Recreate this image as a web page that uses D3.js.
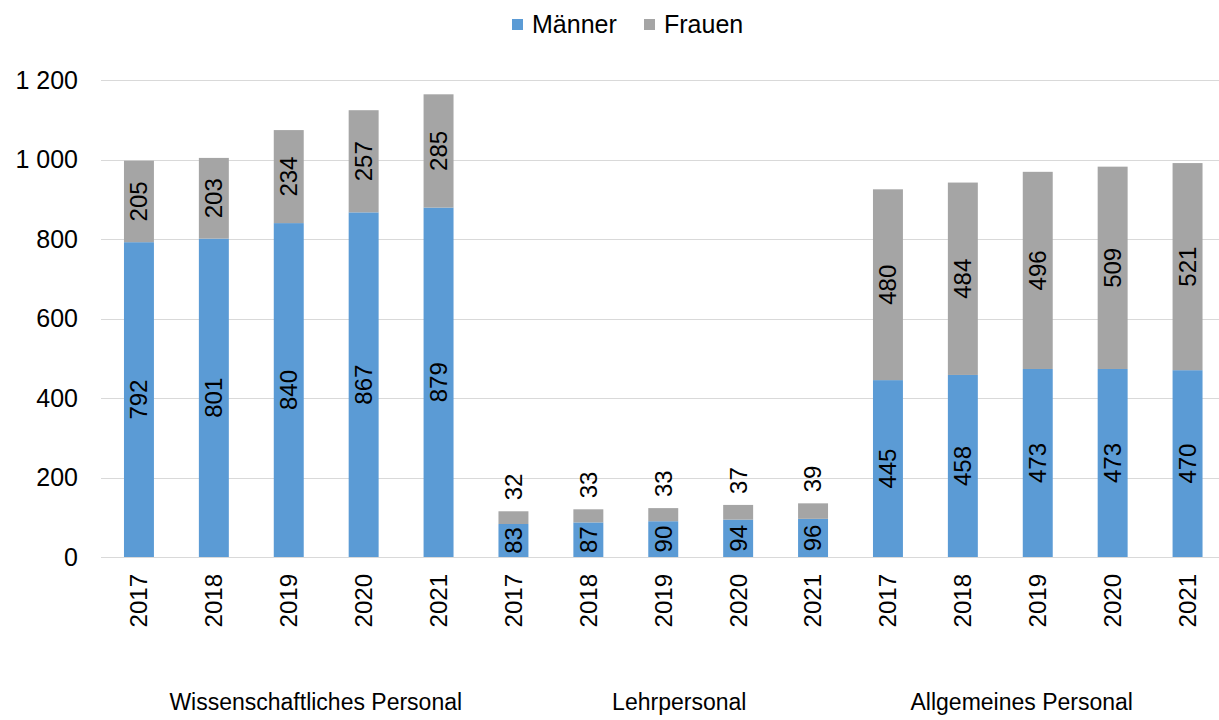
<html>
<head>
<script src="https://d3js.org/d3.v7.min.js"></script>
<style>
  body { margin: 0; background: #fff; }
  text { font-family: "Liberation Sans", Arial, sans-serif; fill: #000; }
  .grid line { stroke: #d9d9d9; stroke-width: 1px; }
</style>
</head>
<body>
<script>
var groups = ["Wissenschaftliches Personal", "Lehrpersonal", "Allgemeines Personal"];
var years = ["2017", "2018", "2019", "2020", "2021"];
var maenner = [792, 801, 840, 867, 879, 83, 87, 90, 94, 96, 445, 458, 473, 473, 470];
var frauen = [205, 203, 234, 257, 285, 32, 33, 33, 37, 39, 480, 484, 496, 509, 521];
var yTicks = [0, 200, 400, 600, 800, 1000, 1200];
var seriesNames = ["Männer", "Frauen"];
var colors = ["#5b9bd5", "#a5a5a5"];

var width = 1219, height = 720;
var svg = d3.select("body").append("svg")
    .attr("width", width).attr("height", height);

// one category per group/year pair
var cats = [];
groups.forEach(function(g, gi) {
    years.forEach(function(y, yi) {
        var i = gi * years.length + yi;
        cats.push({key: g + "|" + y, group: g, year: y, m: maenner[i], f: frauen[i]});
    });
});

var x = d3.scaleBand()
    .domain(cats.map(function(d) { return d.key; }))
    .range([101.5, 1225])
    .paddingInner(0.6)
    .paddingOuter(0.3);
var y = d3.scaleLinear().domain([0, 1200]).range([557, 80]);

// gridlines
svg.append("g").attr("class", "grid")
    .selectAll("line").data(yTicks).enter().append("line")
    .attr("x1", 101).attr("x2", width)
    .attr("y1", function(d) { return Math.round(y(d)) + 0.5; })
    .attr("y2", function(d) { return Math.round(y(d)) + 0.5; });

// y axis labels
var fmt = function(v) { return d3.format(",")(v).replace(/,/g, " "); };
svg.append("g").selectAll("text").data(yTicks).enter().append("text")
    .attr("x", 78).attr("y", function(d) { return y(d); })
    .attr("dy", "0.35em").attr("text-anchor", "end")
    .style("font-size", "25px")
    .text(fmt);

// bars
var bars = svg.append("g");
bars.selectAll(".m").data(cats).enter().append("rect")
    .attr("x", function(d) { return x(d.key); })
    .attr("width", x.bandwidth())
    .attr("y", function(d) { return y(d.m); })
    .attr("height", function(d) { return y(0) - y(d.m); })
    .attr("fill", colors[0]);
bars.selectAll(".f").data(cats).enter().append("rect")
    .attr("x", function(d) { return x(d.key); })
    .attr("width", x.bandwidth())
    .attr("y", function(d) { return y(d.m + d.f); })
    .attr("height", function(d) { return y(d.m) - y(d.m + d.f); })
    .attr("fill", colors[1]);

// value labels
function cx(d) { return x(d.key) + x.bandwidth() / 2; }
var lab = svg.append("g").style("font-size", "24px");
lab.selectAll(".lm").data(cats).enter().append("text")
    .attr("transform", function(d) {
        return "translate(" + cx(d) + "," + y(d.m / 2) + ") rotate(-90)";
    })
    .attr("text-anchor", "middle").attr("dy", "0.35em")
    .text(function(d) { return d.m; });
lab.selectAll(".lf").data(cats).enter().append("text")
    .attr("transform", function(d) {
        if (d.f < 100) return "translate(" + cx(d) + "," + (y(d.m + d.f) - 11) + ") rotate(-90)";
        return "translate(" + cx(d) + "," + y(d.m + d.f / 2) + ") rotate(-90)";
    })
    .attr("text-anchor", function(d) { return d.f < 100 ? "start" : "middle"; })
    .attr("dy", "0.35em")
    .text(function(d) { return d.f; });

// year labels
svg.append("g").selectAll("text").data(cats).enter().append("text")
    .attr("transform", function(d) { return "translate(" + cx(d) + ",574) rotate(-90)"; })
    .attr("text-anchor", "end").attr("dy", "0.35em")
    .style("font-size", "24px")
    .text(function(d) { return d.year; });

// group labels (sit a little off the group centres, as in the original)
var groupShift = [27, 16, -16];
svg.append("g").selectAll("text").data(groups).enter().append("text")
    .attr("x", function(g, i) {
        var a = x(g + "|" + years[0]), b = x(g + "|" + years[years.length - 1]) + x.bandwidth();
        return (a + b) / 2 + groupShift[i];
    })
    .attr("y", 710).attr("text-anchor", "middle")
    .style("font-size", "23px")
    .text(function(g) { return g; });

// legend
var legX = [512, 644];
var leg = svg.append("g");
seriesNames.forEach(function(n, i) {
    leg.append("rect").attr("x", legX[i]).attr("y", 19).attr("width", 11).attr("height", 11)
        .attr("fill", colors[i]);
    leg.append("text").attr("x", legX[i] + 20).attr("y", 24).attr("dy", "0.35em")
        .style("font-size", "25px").text(n);
});
</script>
</body>
</html>
